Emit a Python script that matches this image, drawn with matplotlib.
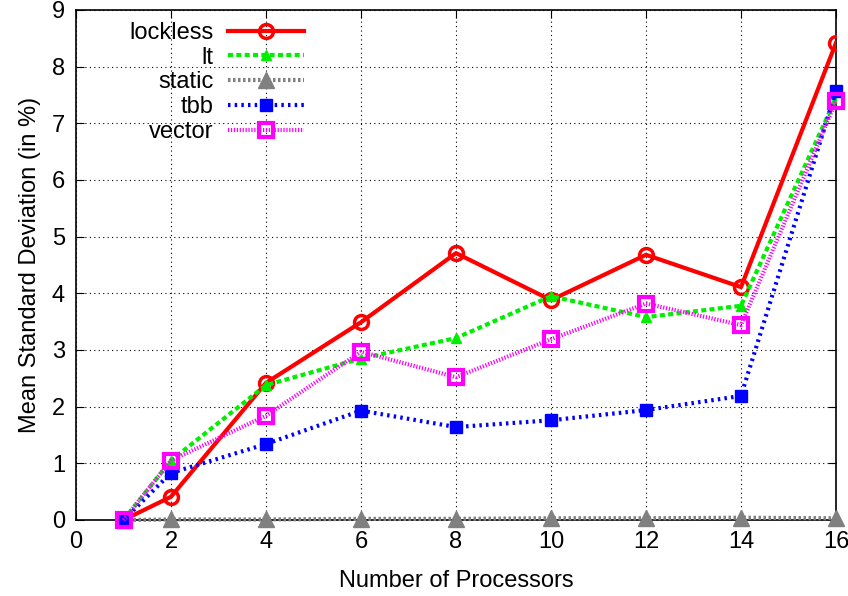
import matplotlib.pyplot as plt
import numpy as np

plt.rcParams['font.family'] = ['Liberation Sans', 'DejaVu Sans']

processors = [1, 2, 4, 6, 8, 10, 12, 14, 16]
lockless = [0.0, 0.41, 2.42, 3.49, 4.71, 3.88, 4.68, 4.11, 8.42]
lt = [0.0, 1.05, 2.38, 2.85, 3.21, 3.95, 3.58, 3.78, 7.45]
static = [0.0, 0.01, 0.01, 0.02, 0.02, 0.03, 0.03, 0.04, 0.03]
tbb = [0.0, 0.83, 1.34, 1.93, 1.64, 1.76, 1.94, 2.19, 7.57]
vector = [0.0, 1.05, 1.84, 2.97, 2.52, 3.19, 3.82, 3.44, 7.39]

fig = plt.figure(figsize=(8.48, 5.96), dpi=100)
ax = fig.add_axes([76/848, 1 - 520/596, 760/848, 510/596])

ax.plot(processors, lockless, color="#ff0000", lw=3, ls="-", marker="o", ms=10,
        mfc="none", mew=2.5, label="lockless", zorder=3)
ax.plot(processors, lt, color="#00ee00", lw=3, ls=(0, (1.2, 0.8)), marker="^", ms=7,
        label="lt", zorder=3)
ax.plot(processors, static, color="#808080", lw=3, ls=(0, (0.6, 0.6)), marker="^", ms=12,
        label="static", zorder=3, clip_on=False)
ax.plot(processors, tbb, color="#0000ff", lw=3, ls=(0, (0.6, 1.0)), marker="s", ms=9,
        label="tbb", zorder=3, clip_on=False)
ax.plot(processors, vector, color="#ff00ff", lw=3, ls=(0, (0.3, 0.4)), marker="s", ms=10,
        mfc="none", mew=3, label="vector", zorder=3, clip_on=False)

ax.set_xlim(0, 16)
ax.set_ylim(0, 9)
ax.set_xticks(np.arange(0, 17, 2))
ax.set_yticks(np.arange(0, 10, 1))
ax.tick_params(direction="in", top=True, right=True, labelsize=17, length=6, pad=8)
ax.grid(True, color="black", ls=(0, (1, 3)), lw=0.8)
for s in ax.spines.values():
    s.set_linewidth(1.2)

ax.set_xlabel("Number of Processors", fontsize=17, labelpad=12)
ax.set_ylabel("Mean Standard Deviation (in %)", fontsize=17, labelpad=8)

ax.legend(loc="upper left", markerfirst=False, frameon=False, fontsize=17,
          handlelength=3.2, labelspacing=0.12, borderaxespad=0.1, handletextpad=0.6,
          bbox_to_anchor=(0.055, 1.0))

fig.savefig("out.png", dpi=100)
